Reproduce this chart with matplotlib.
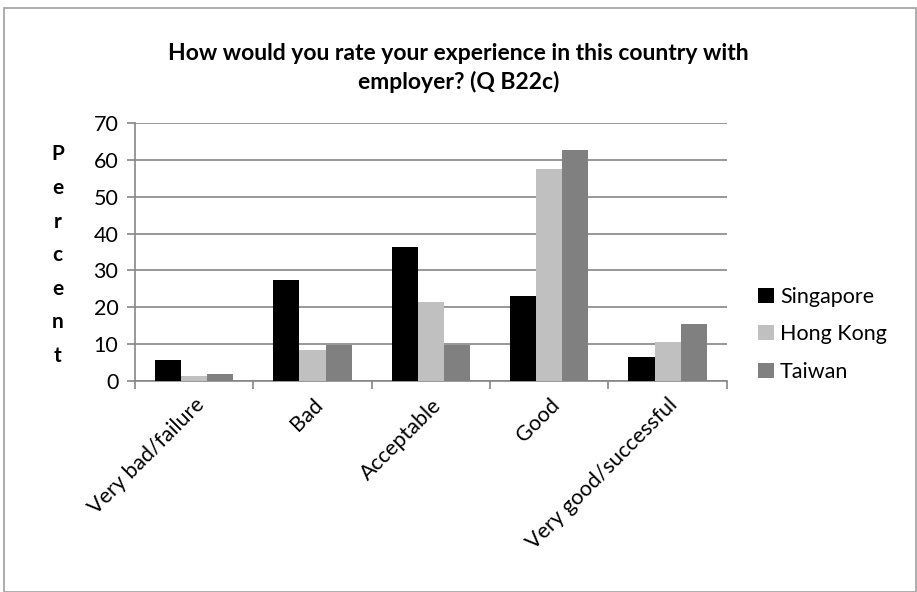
import matplotlib.pyplot as plt
from matplotlib.patches import Rectangle
import numpy as np

# data
categories = ['Very bad/failure', 'Bad', 'Acceptable', 'Good', 'Very good/successful']
series_names = ['Singapore', 'Hong Kong', 'Taiwan']
singapore = [5.7, 27.3, 36.4, 23.1, 6.6]
hong_kong = [1.4, 8.4, 21.5, 57.4, 10.7]
taiwan = [1.8, 9.8, 9.8, 62.7, 15.5]
colors = ['#000000', '#C0C0C0', '#808080']
y_ticks = [0, 10, 20, 30, 40, 50, 60, 70]

plt.rcParams['font.family'] = ['Lato', 'DejaVu Sans']

fig = plt.figure(figsize=(9.17, 5.92), dpi=100)
ax = fig.add_axes([0.1472, 0.3564, 0.6453, 0.4358])

x = np.arange(len(categories))
w = 0.22
for i, (vals, name) in enumerate(zip([singapore, hong_kong, taiwan], series_names)):
    ax.bar(x + (i - 1) * w, vals, width=w, color=colors[i], label=name, zorder=3)

ax.set_xlim(-0.5, len(categories) - 0.5)
ax.set_ylim(0, 70)
ax.set_yticks(y_ticks)
ax.yaxis.grid(True, color='#868686', linewidth=1.2, zorder=0)
for s in ['top', 'right']:
    ax.spines[s].set_visible(False)
ax.spines['left'].set_color('#868686')
ax.spines['bottom'].set_color('#868686')
ax.spines['left'].set_linewidth(1.2)
ax.spines['bottom'].set_linewidth(1.2)
ax.tick_params(axis='y', colors='#868686', length=6, width=1.2, labelsize=15.5, labelcolor='black', pad=6)

# category separators as ticks on the x axis
ax.set_xticks(np.arange(-0.5, len(categories) + 0.5, 1))
ax.set_xticklabels([])
ax.tick_params(axis='x', colors='#868686', length=6, width=1.2)
ax.set_xticks(x, minor=True)
ax.set_xticklabels(categories, minor=True, rotation=45, ha='right', rotation_mode='anchor', fontsize=15.5)
ax.tick_params(axis='x', which='minor', length=0, pad=10)

fig.text(0.5, 0.885, 'How would you rate your experience in this country with\nemployer? (Q B22c)',
         ha='center', va='center', fontsize=16.5, fontweight='bold', linespacing=1.35)

# vertical stacked y label
fig.text(0.063, 0.569, '\n'.join('Percent'), ha='center', va='center', fontsize=15,
         fontweight='bold', linespacing=1.85)

fig.legend(loc='center left', bbox_to_anchor=(0.806, 0.435), frameon=False, fontsize=15.5,
           handlelength=0.7, handleheight=0.7, handletextpad=0.3, labelspacing=0.8)

fig.patches.append(Rectangle((0.004, 0.0), 0.995, 0.986, transform=fig.transFigure,
                             fill=False, edgecolor='#A0A0A0', linewidth=1.2))

fig.savefig('out.png', dpi=100)
